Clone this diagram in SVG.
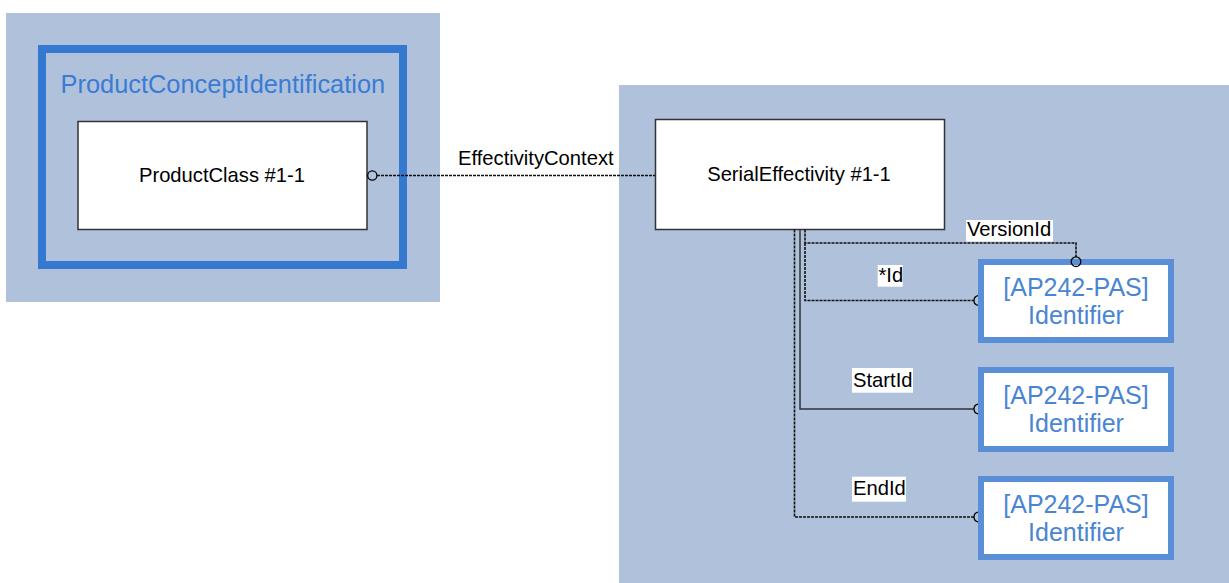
<svg xmlns="http://www.w3.org/2000/svg" width="1229" height="583" viewBox="0 0 1229 583">
<style>
.bg{fill:#B0C2DB}
.frame{fill:none;stroke:#3478D0;stroke-width:8}
.box{fill:#fff;stroke:#333;stroke-width:1.5}
.idbox{fill:#fff;stroke:#5A8FD8;stroke-width:6}
.t{font-family:"Liberation Sans",Arial,sans-serif;font-size:20.2px;fill:#000}
.tb{font-family:"Liberation Sans",Arial,sans-serif;font-size:25px;fill:#4A85D3}
.title{font-family:"Liberation Sans",Arial,sans-serif;font-size:25.4px;fill:#3A7BD5}
.dot{fill:none;stroke:#111;stroke-width:1.6;stroke-dasharray:3 1}
.sol{fill:none;stroke:#333;stroke-width:1.5}
.end{fill:none;stroke:#000;stroke-width:1.3}
.lbg{fill:#fff}
</style>
<rect class="bg" x="6" y="13" width="434" height="289"/>
<rect class="bg" x="619" y="85" width="610" height="498"/>
<g id="ProductConceptIdentification">
  <rect class="frame" x="42" y="49" width="361" height="216"/>
  <text class="title" x="60.5" y="93">ProductConceptIdentification</text>
</g>
<g id="ProductClass">
  <rect class="box" x="78" y="121.5" width="289" height="108"/>
  <text class="t" x="222" y="182" text-anchor="middle">ProductClass #1-1</text>
</g>
<g id="SerialEffectivity">
  <rect class="box" x="655.5" y="119.5" width="289" height="110"/>
  <text class="t" x="799" y="181" text-anchor="middle">SerialEffectivity #1-1</text>
</g>
<g id="Identifier1">
  <rect class="idbox" x="981" y="262" width="190" height="78"/>
  <text class="tb" x="1076" y="296" text-anchor="middle">[AP242-PAS]</text>
  <text class="tb" x="1076" y="324" text-anchor="middle">Identifier</text>
</g>
<g id="Identifier2">
  <rect class="idbox" x="981" y="370" width="190" height="79"/>
  <text class="tb" x="1076" y="404" text-anchor="middle">[AP242-PAS]</text>
  <text class="tb" x="1076" y="432" text-anchor="middle">Identifier</text>
</g>
<g id="Identifier3">
  <rect class="idbox" x="981" y="479" width="190" height="78"/>
  <text class="tb" x="1076" y="512.5" text-anchor="middle">[AP242-PAS]</text>
  <text class="tb" x="1076" y="540.5" text-anchor="middle">Identifier</text>
</g>
<g id="connectors">
  <path class="dot" d="M377,175.5 H655"/>
  <circle class="end" cx="372.3" cy="175.5" r="4.6" fill="none"/>
  <text class="t" x="458" y="165">EffectivityContext</text>

  <path class="dot" d="M805,229.5 V243 H1076 V257"/>
  <circle class="end" cx="1076" cy="261.7" r="4.8"/>
  <rect class="lbg" x="966" y="220" width="87" height="21.5"/>
  <text class="t" x="967" y="236">VersionId</text>

  <path class="dot" d="M805,243 V300.5 H974"/>
  <path class="end" d="M978,295.6 A5,5 0 0 0 978,305.4"/>
  <rect class="lbg" x="877.7" y="265" width="25" height="21.7"/>
  <text class="t" x="878.5" y="282">*Id</text>

  <path class="sol" d="M800,229.5 V409 H974"/>
  <path class="end" d="M978,404.1 A5,5 0 0 0 978,413.9"/>
  <rect class="lbg" x="852" y="368" width="61" height="24.7"/>
  <text class="t" x="853" y="387">StartId</text>

  <path class="dot" d="M794.5,229.5 V517 H974"/>
  <path class="end" d="M978,512.1 A5,5 0 0 0 978,521.9"/>
  <rect class="lbg" x="852" y="476.7" width="54" height="25"/>
  <text class="t" x="853" y="495">EndId</text>
</g>
</svg>
